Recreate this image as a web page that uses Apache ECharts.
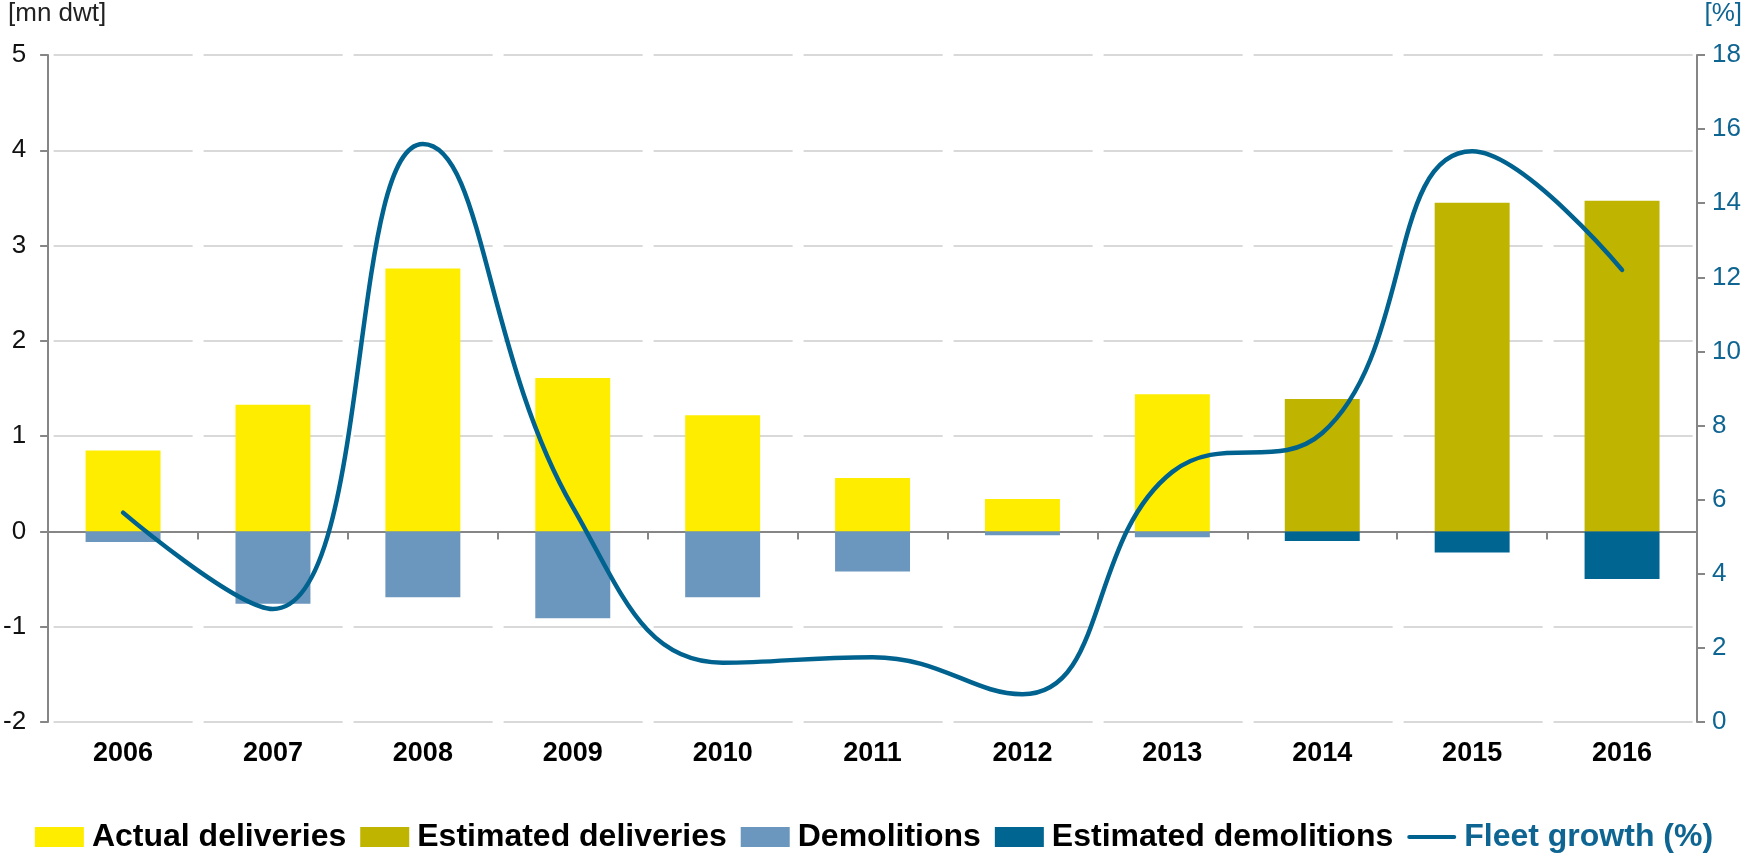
<!DOCTYPE html>
<html lang="en">

<head>
  <meta charset="UTF-8" />
  <title>Deliveries, demolitions and fleet growth</title>
  <script src="https://cdn.jsdelivr.net/npm/echarts@6/dist/echarts.min.js"></script>
  <style>
    html,
    body {
      margin: 0;
      padding: 0;
      background: #fff;
    }

    #chart {
      width: 1748px;
      height: 859px;
    }
  </style>
</head>

<body>
  <div id="chart"></div>

  <script>
    // years on the category axis
    const years = ['2006', '2007', '2008', '2009', '2010', '2011', '2012', '2013', '2014', '2015', '2016'];

    // mn dwt, left axis ('-' = no bar)
    const actualDeliveries = [0.85, 1.33, 2.76, 1.61, 1.22, 0.56, 0.34, 1.44, '-', '-', '-'];
    const estimatedDeliveries = ['-', '-', '-', '-', '-', '-', '-', '-', 1.39, 3.45, 3.47];
    const demolitions = [-0.11, -0.76, -0.69, -0.91, -0.69, -0.42, -0.04, -0.06, '-', '-', '-'];
    const estimatedDemolitions = ['-', '-', '-', '-', '-', '-', '-', '-', -0.10, -0.22, -0.50];

    // %, right axis
    const fleetGrowth = [5.65, 3.05, 15.6, 5.8, 1.6, 1.75, 0.75, 6.75, 7.8, 15.4, 12.2];

    const chart = echarts.init(document.getElementById('chart'));

    const axisGrey = '#868686';
    const blue = '#0f6592';
    const font = 'Liberation Sans, Arial, sans-serif';

    const option = {
      animation: false,
      textStyle: { fontFamily: font },
      grid: { left: 48, right: 51, top: 55, bottom: 137 },
      graphic: [
        { type: 'text', left: 8, top: 1, style: { text: '[mn dwt]', fontSize: 26, fill: '#222', fontFamily: font } },
        { type: 'text', right: 6, top: 1, style: { text: '[%]', fontSize: 26, fill: blue, fontFamily: font } }
      ],
      legend: {
        left: 'center',
        top: 816,
        itemWidth: 49,
        itemHeight: 20,
        itemGap: 14,
        textStyle: { fontSize: 32, fontWeight: 'bold', color: '#000', fontFamily: font, padding: [0, 0, 0, 3] },
        data: [
          { name: 'Actual deliveries', icon: 'rect' },
          { name: 'Estimated deliveries', icon: 'rect' },
          { name: 'Demolitions', icon: 'rect' },
          { name: 'Estimated demolitions', icon: 'rect' },
          {
            name: 'Fleet growth (%)',
            icon: 'path://M0,0M2,8H47A2,2,0,0,1,47,12H2A2,2,0,0,1,2,8ZM49,20',
            itemStyle: { color: '#00628f' },
            textStyle: { color: blue }
          }
        ]
      },
      xAxis: [
        {
          type: 'category',
          data: years,
          position: 'bottom',
          axisLine: { show: false, onZero: false },
          axisTick: { show: false },
          axisLabel: { fontSize: 27, fontWeight: 'bold', color: '#000', margin: 18 }
        },
        {
          type: 'category',
          data: years,
          position: 'bottom',
          axisLine: { show: true, onZero: true, onZeroAxisIndex: 0, lineStyle: { color: axisGrey, width: 2 } },
          axisTick: { show: true, length: 8, lineStyle: { color: axisGrey, width: 2 } },
          axisLabel: { show: false }
        }
      ],
      yAxis: [
        {
          type: 'value',
          min: -2,
          max: 5,
          interval: 1,
          axisLine: { show: true, lineStyle: { color: axisGrey, width: 2 } },
          axisTick: { show: true, length: 8, lineStyle: { color: axisGrey, width: 2 } },
          axisLabel: { fontSize: 26, color: '#111', margin: 22 },
          splitLine: {
            show: true,
            lineStyle: { color: '#d9d9d9', width: 2, type: [139, 11], dashOffset: 144.5 }
          }
        },
        {
          type: 'value',
          min: 0,
          max: 18,
          interval: 2,
          position: 'right',
          axisLine: { show: true, lineStyle: { color: axisGrey, width: 2 } },
          axisTick: { show: true, length: 8, lineStyle: { color: axisGrey, width: 2 } },
          axisLabel: { fontSize: 26, color: blue, margin: 15 },
          splitLine: { show: false }
        }
      ],
      series: [
        {
          name: 'Actual deliveries',
          type: 'bar',
          stack: 'fleet',
          barWidth: '50%',
          data: actualDeliveries,
          itemStyle: { color: '#ffed00' }
        },
        {
          name: 'Estimated deliveries',
          type: 'bar',
          stack: 'fleet',
          barWidth: '50%',
          data: estimatedDeliveries,
          itemStyle: { color: '#bfb400' }
        },
        {
          name: 'Demolitions',
          type: 'bar',
          stack: 'fleet',
          barWidth: '50%',
          data: demolitions,
          itemStyle: { color: '#6b96bd' }
        },
        {
          name: 'Estimated demolitions',
          type: 'bar',
          stack: 'fleet',
          barWidth: '50%',
          data: estimatedDemolitions,
          itemStyle: { color: '#006591' }
        },
        {
          name: 'Fleet growth (%)',
          type: 'line',
          yAxisIndex: 1,
          smooth: 0.45,
          symbol: 'none',
          data: fleetGrowth,
          lineStyle: { color: '#00628f', width: 4.5, cap: 'round' },
          itemStyle: { color: '#00628f' },
          z: 5
        }
      ]
    };

    chart.setOption(option);
  </script>
</body>

</html>
